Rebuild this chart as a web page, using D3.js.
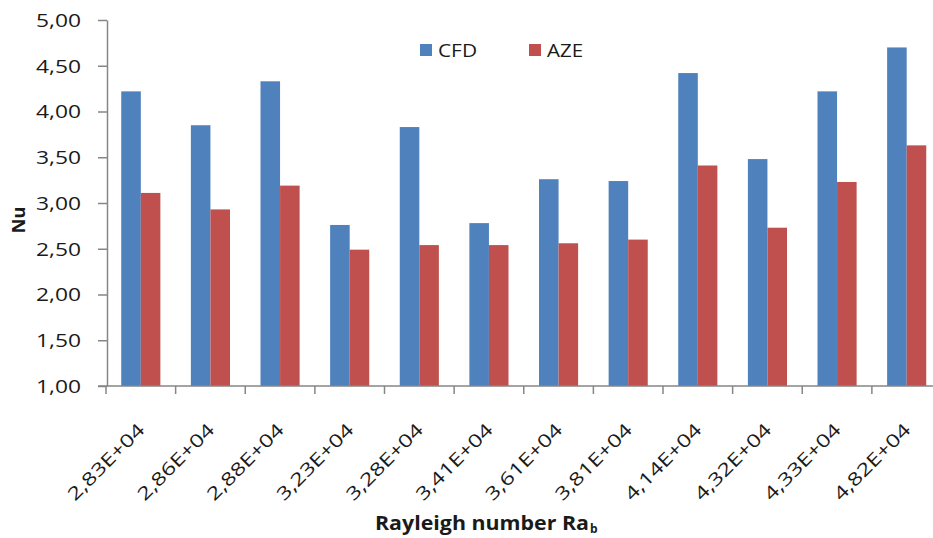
<!DOCTYPE html>
<html>
<head>
<meta charset="utf-8">
<script src="https://cdn.jsdelivr.net/npm/d3@7"></script>
<style>
  html, body { margin: 0; padding: 0; background: #fff; }
  svg { display: block; }
  text { font-family: "Open Sans", Lato, sans-serif; fill: #1a1a1a; }
</style>
</head>
<body>
<svg id="chart" width="933" height="538"></svg>
<script>
// Rayleigh numbers (category labels)
const categories = ["2,83E+04", "2,86E+04", "2,88E+04", "3,23E+04", "3,28E+04", "3,41E+04",
                    "3,61E+04", "3,81E+04", "4,14E+04", "4,32E+04", "4,33E+04", "4,82E+04"];
// Nusselt numbers per method
const cfd = [4.22, 3.85, 4.33, 2.76, 3.83, 2.78, 3.26, 3.24, 4.42, 3.48, 4.22, 4.70];
const aze = [3.11, 2.93, 3.19, 2.49, 2.54, 2.54, 2.56, 2.60, 3.41, 2.73, 3.23, 3.63];
const seriesNames = ["CFD", "AZE"];
const yTicks = [1.0, 1.5, 2.0, 2.5, 3.0, 3.5, 4.0, 4.5, 5.0];

const colors = { CFD: "#4F81BD", AZE: "#C0504D" };
const axisColor = "#868686";

const svg = d3.select("#chart");
const plotLeft = 107, plotTop = 20, plotBottom = 386, plotRight = 941.5;

const x = d3.scaleBand().domain(categories).range([plotLeft - 1, plotRight]).paddingInner(0).paddingOuter(0);
const xs = d3.scaleBand().domain(seriesNames).range([0, x.bandwidth()]).paddingInner(0).paddingOuter(0.78);
const y = d3.scaleLinear().domain([1, 5]).range([plotBottom, plotTop]);

const fmt = v => d3.format(".2f")(v).replace(".", ",");

// widen glyphs of a text selection so that its first item spans `target` pixels
function fitWidth(sel, target) {
  const first = sel.node();
  const f = target / first.getComputedTextLength();
  sel.each(function () {
    const w = this.getComputedTextLength();
    d3.select(this).attr("textLength", w * f).attr("lengthAdjust", "spacingAndGlyphs");
  });
}

// bars
const rows = categories.map((c, i) => ({ cat: c, values: [{ s: "CFD", v: cfd[i] }, { s: "AZE", v: aze[i] }] }));
const groups = svg.append("g").selectAll("g").data(rows).join("g")
  .attr("transform", d => `translate(${x(d.cat)},0)`);
groups.selectAll("rect").data(d => d.values).join("rect")
  .attr("x", d => xs(d.s))
  .attr("width", xs.bandwidth())
  .attr("y", d => y(d.v))
  .attr("height", d => y(1) - y(d.v))
  .attr("fill", d => colors[d.s]);

// y axis
const yAxis = svg.append("g").attr("transform", `translate(${plotLeft},0)`)
  .call(d3.axisLeft(y).tickValues(yTicks).tickFormat(fmt).tickSizeInner(9).tickSizeOuter(0).tickPadding(17));
yAxis.select(".domain").attr("stroke", axisColor).attr("stroke-width", 1.5);
yAxis.selectAll(".tick line").attr("stroke", axisColor).attr("stroke-width", 1.5);
yAxis.selectAll(".tick text").attr("font-size", 18).attr("font-family", "Open Sans").attr("fill", "#1a1a1a")
  .attr("dy", "0.36em").call(fitWidth, 45);

// x axis line
svg.append("line").attr("x1", plotLeft - 9).attr("x2", 933).attr("y1", plotBottom).attr("y2", plotBottom)
  .attr("stroke", axisColor).attr("stroke-width", 1.5);
// x ticks at category boundaries
const bounds = categories.map(c => x(c));
svg.append("g").selectAll("line").data(bounds).join("line")
  .attr("x1", d => d).attr("x2", d => d).attr("y1", plotBottom).attr("y2", plotBottom + 8)
  .attr("stroke", axisColor).attr("stroke-width", 1.5);

// x tick labels
svg.append("g").selectAll("text").data(categories).join("text")
  .attr("transform", d => `translate(${x(d) + x.bandwidth() / 2 + 5},${plotBottom + 45}) rotate(-45)`)
  .attr("text-anchor", "end")
  .attr("font-size", 18)
  .text(d => d)
  .call(fitWidth, 100);

// axis titles
svg.append("text").attr("transform", "translate(25,220) rotate(-90)")
  .attr("text-anchor", "middle").attr("font-weight", "bold").attr("font-size", 18).text("Nu");

svg.append("text").attr("x", 375).attr("y", 530)
  .attr("font-weight", "bold").attr("font-size", 19)
  .text("Rayleigh number Ra").call(fitWidth, 214);
svg.append("text").attr("x", 590).attr("y", 533)
  .attr("font-weight", "bold").attr("font-size", 12).text("b");

// legend
const legendItems = [{ s: "CFD", x: 420, w: 39 }, { s: "AZE", x: 529, w: 36 }];
const legend = svg.append("g");
legend.selectAll("rect").data(legendItems).join("rect")
  .attr("x", d => d.x).attr("y", 44).attr("width", 12).attr("height", 12)
  .attr("fill", d => colors[d.s]);
legend.selectAll("text").data(legendItems).join("text")
  .attr("x", d => d.x + 18).attr("y", 57).attr("font-size", 19).text(d => d.s)
  .each(function (d) { d3.select(this).call(fitWidth, d.w); });
</script>
</body>
</html>
